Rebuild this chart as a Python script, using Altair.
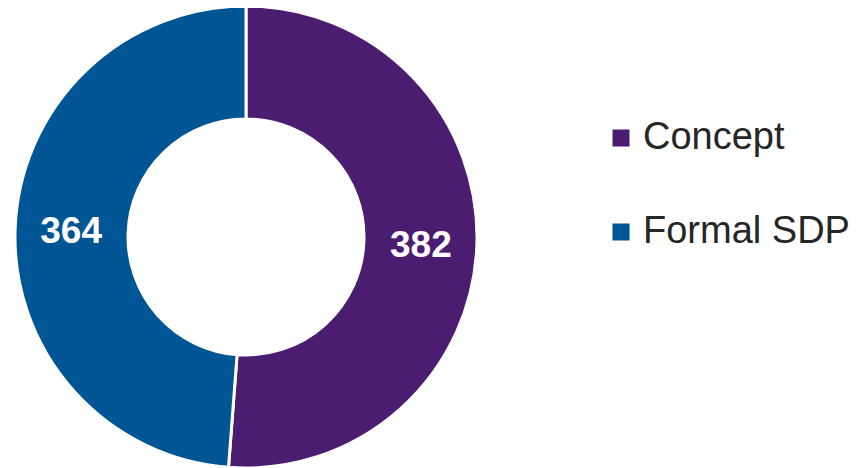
import altair as alt
import pandas as pd

categories = ["Concept", "Formal SDP"]
values = [382, 364]
order = [1, 2]
colors = ["#4B1D71", "#005595"]

df = pd.DataFrame({"category": categories, "value": values, "order": order})

CX, CY = 238, 229

base = alt.Chart(df).encode(
    theta=alt.Theta("value:Q", stack=True),
    order=alt.Order("order:Q"),
)

arc = base.mark_arc(outerRadius=231, innerRadius=118, stroke="white", strokeWidth=3).encode(
    color=alt.Color(
        "category:N",
        scale=alt.Scale(domain=categories, range=colors),
        legend=alt.Legend(
            title=None,
            orient="none",
            legendX=594,
            legendY=111,
            padding=0,
            symbolType="square",
            symbolSize=289,
            symbolStrokeWidth=0,
            labelFontSize=38,
            labelFont="Liberation Sans",
            labelColor="#262626",
            labelOffset=3,
            rowPadding=56,
            labelLimit=400,
        ),
    ),
    x=alt.value(CX),
    y=alt.value(CY),
)

text = base.mark_text(
    radius=175, fontSize=37, font="Liberation Sans", fontWeight="bold", color="white", dy=2
).encode(
    text="value:Q",
    x=alt.value(CX),
    y=alt.value(CY),
)

chart = (
    alt.layer(arc, text)
    .properties(width=842, height=460, autosize=alt.AutoSizeParams(type="none"), padding=0)
    .configure_view(stroke=None)
)

chart.save("out.html", embed_options={"renderer": "svg", "actions": False})
